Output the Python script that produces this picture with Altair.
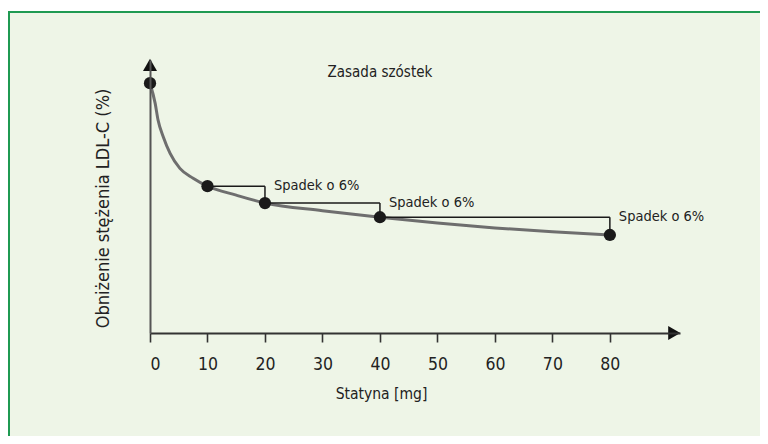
import altair as alt
import pandas as pd

# Curve
curve_x = [0, 0.9, 1.4, 2.3, 3.5, 5.2, 7.5, 10, 15, 20, 30, 40, 50, 60, 70, 80]
curve_y = [91.5, 84.1, 78.0, 71.9, 65.8, 60.3, 56.7, 53.8, 50.5, 47.6, 44.8, 42.4, 40.3, 38.5, 37.1, 35.9]

# Marked doses
dose = [0, 10, 20, 40, 80]
dose_y = [91.5, 53.8, 47.6, 42.4, 35.9]

labels = ["Spadek o 6%", "Spadek o 6%", "Spadek o 6%"]
x_ticks = [0, 10, 20, 30, 40, 50, 60, 70, 80]
chart_title = "Zasada szóstek"

FONT = "DejaVu Sans Condensed, Liberation Sans Narrow, sans-serif"
BG = "#eef5e7"
GREEN = "#1f9a52"

curve_df = pd.DataFrame({"x": curve_x, "y": curve_y})
pts_df = pd.DataFrame({"x": dose, "y": dose_y})

h_rows, v_rows, lab_rows = [], [], []
for i in range(1, len(dose) - 1):
    h_rows.append({"x": dose[i], "x2": dose[i + 1], "y": dose_y[i]})
    v_rows.append({"x": dose[i + 1], "y": dose_y[i], "y2": dose_y[i + 1]})
    lab_rows.append({"x": dose[i + 1], "y": dose_y[i], "t": labels[i - 1]})
h_df = pd.DataFrame(h_rows)
v_df = pd.DataFrame(v_rows)
lab_df = pd.DataFrame(lab_rows)

xscale = alt.Scale(domain=[0, 92.2], nice=False, zero=False)
yscale = alt.Scale(domain=[0, 100], nice=False)

xaxis = alt.Axis(
    values=x_ticks, title="Statyna [mg]", grid=False, zindex=1,
    domainColor="#333", domainWidth=2, tickColor="#333", tickWidth=1.6, tickSize=9,
    labelFont=FONT, labelFontSize=17.5, labelColor="#222", labelPadding=13,
    titleFont=FONT, titleFontSize=15.5, titleFontWeight="normal", titleColor="#222",
    titleX=231, titleY=60, titleBaseline="middle", titleAlign="center",
)
yaxis = alt.Axis(
    title="Obniżenie stężenia LDL-C (%)", grid=False, ticks=False, labels=False, zindex=1,
    domainColor="#555", domainWidth=2,
    titleFont=FONT, titleFontSize=18, titleFontWeight="normal", titleColor="#222",
    titleX=-47, titleY=148, titleAngle=-90, titleAlign="center", titleBaseline="middle",
)

one = pd.DataFrame({"a": [0]})

frame = alt.Chart(one).mark_rect(fill=BG, strokeWidth=0).encode(
    x=alt.value(-142), x2=alt.value(612), y=alt.value(-49), y2=alt.value(380)
)
border_top = alt.Chart(one).mark_rule(color=GREEN, strokeWidth=2).encode(
    x=alt.value(-142), x2=alt.value(612), y=alt.value(-48)
)
border_left = alt.Chart(one).mark_rule(color=GREEN, strokeWidth=2).encode(
    x=alt.value(-141), y=alt.value(-49), y2=alt.value(380)
)

curve = alt.Chart(curve_df).mark_line(
    color="#6e6e6e", strokeWidth=3, interpolate="monotone"
).encode(
    x=alt.X("x:Q", scale=xscale, axis=xaxis),
    y=alt.Y("y:Q", scale=yscale, axis=yaxis),
)

hrule = alt.Chart(h_df).mark_rule(color="#1a1a1a", strokeWidth=1.5).encode(
    x="x:Q", x2="x2:Q", y="y:Q"
)
vrule = alt.Chart(v_df).mark_rule(color="#1a1a1a", strokeWidth=1.5).encode(
    x="x:Q", y="y:Q", y2="y2:Q"
)

points = alt.Chart(pts_df).mark_point(
    filled=True, color="#1a1a1a", size=150, opacity=1, shape="circle"
).encode(x="x:Q", y="y:Q")

texts = alt.Chart(lab_df).mark_text(
    align="left", baseline="middle", dx=9, dy=0, font=FONT, fontSize=14.5, color="#222"
).encode(x="x:Q", y="y:Q", text="t:N")

title_mark = alt.Chart(one).mark_text(
    align="center", baseline="middle", font=FONT, fontSize=15, color="#222"
).encode(x=alt.datum(40), y=alt.datum(95.6), text=alt.value(chart_title))

arrow_up = alt.Chart(one).mark_point(
    shape="triangle-up", filled=True, color="#111", size=196, opacity=1
).encode(x=alt.datum(0), y=alt.datum(98.2))
arrow_right = alt.Chart(one).mark_point(
    shape="triangle-right", filled=True, color="#111", size=196, opacity=1
).encode(x=alt.datum(91.2), y=alt.datum(0))

chart = alt.layer(
    frame, border_top, border_left, curve, hrule, vrule, points, texts, title_mark,
    arrow_up, arrow_right
).properties(
    width=530, height=273,
    autosize=alt.AutoSizeParams(type="none"),
    padding={"left": 142, "top": 52, "right": 80, "bottom": 103},
).configure(background="white").configure_view(stroke=None)

chart.save("out.html", embed_options={"renderer": "svg", "actions": False})
